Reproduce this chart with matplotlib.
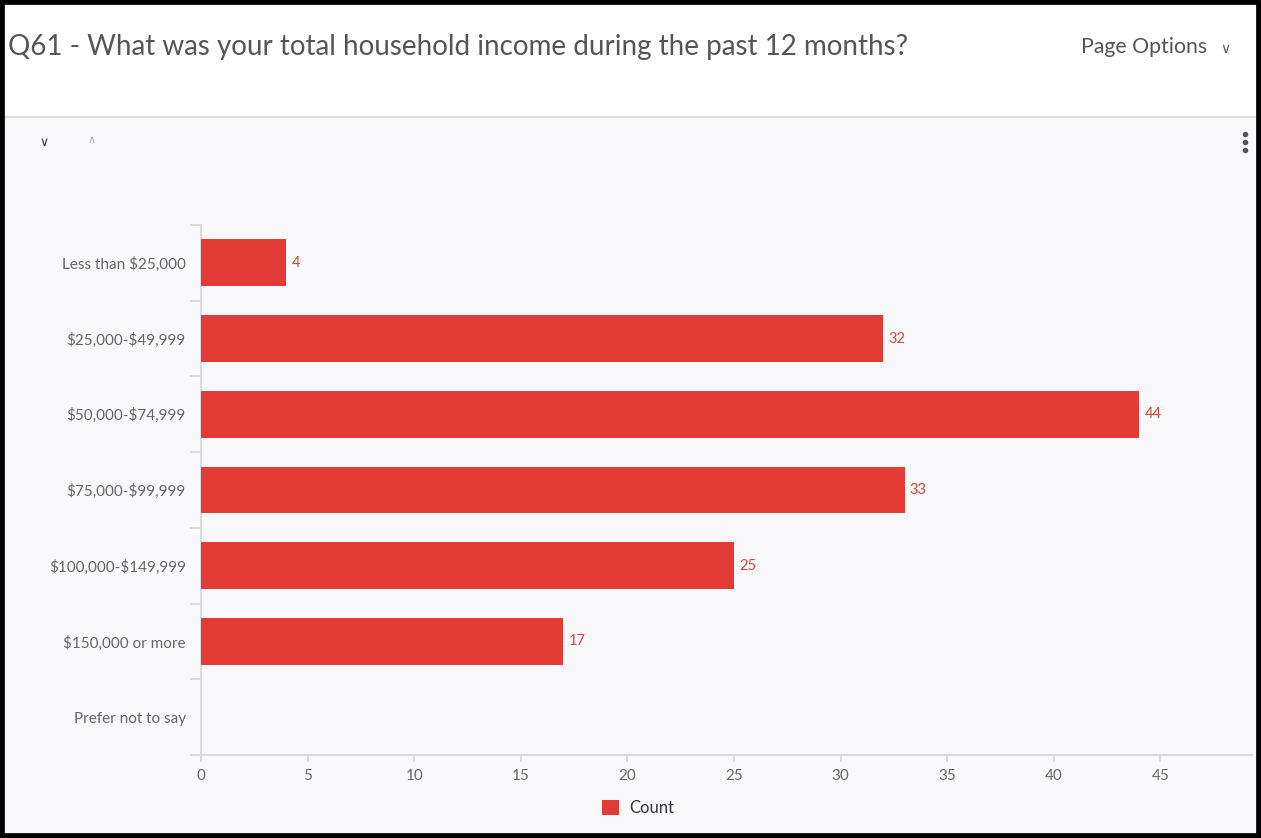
import matplotlib.pyplot as plt
from matplotlib.patches import Rectangle
import numpy as np

# Data
categories = ['Less than $25,000', '$25,000-$49,999', '$50,000-$74,999',
              '$75,000-$99,999', '$100,000-$149,999', '$150,000 or more',
              'Prefer not to say']
counts = [4, 32, 44, 33, 25, 17, 0]
x_ticks = [0, 5, 10, 15, 20, 25, 30, 35, 40, 45]

title = 'Q61 - What was your total household income during the past 12 months?'
bar_color = '#e43a36'
label_color = '#d8433d'
text_gray = '#666666'
axis_gray = '#d6d6da'

W, H = 1261, 838
plt.rcParams['text.parse_math'] = False
plt.rcParams['font.family'] = ['Lato', 'DejaVu Sans']
fig = plt.figure(figsize=(W / 100, H / 100), dpi=100)
fig.patch.set_facecolor('white')

# panel background and header separator
fig.patches.append(Rectangle((0, 0), 1, 1 - 118 / H, transform=fig.transFigure,
                             facecolor='#f9f9fb', edgecolor='none', zorder=-5))
fig.add_artist(plt.Line2D([0, 1], [1 - 117 / H] * 2, color='#d5d5d5', lw=1.2,
                          transform=fig.transFigure, zorder=-4))

# header texts
fig.text(8 / W, 1 - 47 / H, title, fontsize=20, color='#555555', va='center', ha='left')
fig.text(1207 / W, 1 - 47 / H, 'Page Options', fontsize=15.3, color='#555555',
         va='center', ha='right')
fig.text(1220 / W, 1 - 49 / H, '\u2228', fontsize=10, color='#555555', va='center',
         ha='left', family='DejaVu Sans')
fig.text(44 / W, 1 - 142 / H, '\u2228', fontsize=9, color='#333333', va='center',
         ha='center', family='DejaVu Sans')
fig.text(92 / W, 1 - 140 / H, '\u2227', fontsize=8, color='#aaaaaa', va='center',
         ha='center', family='DejaVu Sans')
for yy in (134, 142, 150):
    fig.add_artist(plt.Line2D([1245 / W], [1 - yy / H], marker='o', markersize=3,
                              color='#555555', transform=fig.transFigure))

# chart
ax = fig.add_axes([201 / W, 1 - 755 / H, (1252 - 201) / W, (755 - 225) / H])
ax.set_facecolor('none')
y = np.arange(len(categories))
bars = ax.barh(y, counts, height=0.62, color=bar_color, label='Count', zorder=3)
for b, v in zip(bars, counts):
    if v > 0:
        ax.text(v + 0.25, b.get_y() + b.get_height() / 2, str(v), color=label_color,
                fontsize=10.5, va='center', ha='left')

ax.set_xlim(0, 49.3)
ax.set_ylim(len(categories) - 0.5, -0.5)
ax.set_yticks(y)
ax.set_yticklabels(categories, fontsize=11, color=text_gray)
ax.set_yticks(np.arange(-0.5, len(categories), 1), minor=True)
ax.tick_params(axis='y', which='major', length=0, pad=11)
ax.tick_params(axis='y', which='minor', length=8, color=axis_gray, width=1.2)
ax.set_xticks(x_ticks)
ax.tick_params(axis='x', length=5, color=axis_gray, width=1.2, labelsize=11,
               labelcolor=text_gray, pad=5)
for s in ['top', 'right']:
    ax.spines[s].set_visible(False)
for s in ['left', 'bottom']:
    ax.spines[s].set_color(axis_gray)
    ax.spines[s].set_linewidth(1.2)

leg = fig.legend(handles=[bars], labels=['Count'], loc='center',
                 bbox_to_anchor=(638 / W, 1 - 808 / H), frameon=False, fontsize=12,
                 handlelength=1.0, handleheight=1.0, handletextpad=0.6)
for t in leg.get_texts():
    t.set_color('#333333')

# outer black frame
fig.patches.append(Rectangle((0, 0), 1, 1, transform=fig.transFigure, fill=False,
                             edgecolor='black', linewidth=7, zorder=10))

fig.savefig('out.png', dpi=100)
